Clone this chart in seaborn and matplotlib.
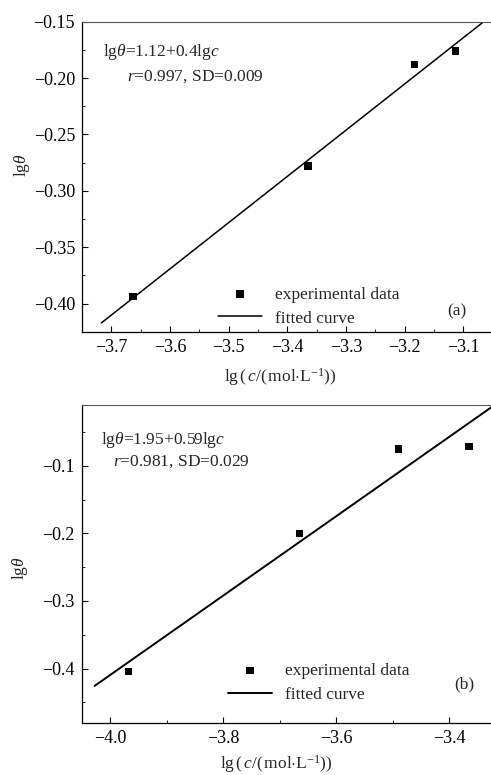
import numpy as np
import pandas as pd
import matplotlib
matplotlib.use("Agg")
import matplotlib.pyplot as plt
from matplotlib.ticker import MultipleLocator, FuncFormatter
import seaborn as sns

# ---- data -------------------------------------------------------------
# (a)
lgc_a = [-3.663, -3.365, -3.183, -3.114]
lgtheta_a = [-0.394, -0.278, -0.188, -0.176]
fit_range_a = [-3.717, -3.06]
eq_a = [r"lg$\theta$=1.12+0.4lg$c$", r"$r$=0.997, SD=0.009"]

# (b)
lgc_b = [-3.967, -3.665, -3.490, -3.365]
lgtheta_b = [-0.404, -0.200, -0.075, -0.071]
fit_range_b = [-4.027, -3.30]
eq_b = [r"lg$\theta$=1.95+0.59lg$c$", r"$r$=0.981, SD=0.029"]

xticks_a = [-3.7, -3.6, -3.5, -3.4, -3.3, -3.2, -3.1]
yticks_a = [-0.40, -0.35, -0.30, -0.25, -0.20, -0.15]
xticks_b = [-4.0, -3.8, -3.6, -3.4]
yticks_b = [-0.4, -0.3, -0.2, -0.1]

legend_labels = ["experimental data", "fitted curve"]
xlabel = r"lg$\,(\,c/(\,\mathrm{mol{\cdot}L}^{-1}))$"
ylabel = r"lg$\theta$"

# ---- style ------------------------------------------------------------
sns.set_theme(style="ticks")
plt.rcParams["font.family"] = ["Liberation Serif", "DejaVu Serif"]
plt.rcParams["mathtext.fontset"] = "custom"
plt.rcParams["mathtext.rm"] = "Liberation Serif"
plt.rcParams["mathtext.it"] = "Liberation Serif:italic"
plt.rcParams["mathtext.bf"] = "Liberation Serif:bold"
plt.rcParams["axes.unicode_minus"] = True

FS = 12.5
TICK_FS = 13

fig = plt.figure(figsize=(4.91, 7.75), dpi=100)
fig.patch.set_facecolor("white")

ax_a = fig.add_axes([0.167, 0.572, 0.833, 0.400])
ax_b = fig.add_axes([0.1664, 0.0675, 0.8336, 0.410])


def minus_fmt(decimals):
    return FuncFormatter(lambda v, p: f"{v:.{decimals}f}".replace("-", "\u2212"))


def panel(ax, x, y, fit_range, eq, lw, xlim, ylim, xticks, yticks,
          xminor, yminor, ydec, tag, tag_pos, eq_pos, leg_anchor,
          xlabel_pos, ylabel_pos):
    df = pd.DataFrame({"x": x, "y": y})
    slope, intercept = np.polyfit(df["x"], df["y"], 1)
    fit = pd.DataFrame({"x": fit_range})
    fit["y"] = intercept + slope * fit["x"]

    sns.scatterplot(data=df, x="x", y="y", ax=ax, marker="s", s=28,
                    color="black", edgecolor="none", linewidth=0,
                    label=legend_labels[0], zorder=3)
    sns.lineplot(data=fit, x="x", y="y", ax=ax, color="black",
                 linewidth=lw, label=legend_labels[1], zorder=2)

    ax.set_xlim(*xlim)
    ax.set_ylim(*ylim)
    ax.set_xticks(xticks)
    ax.set_yticks(yticks)
    ax.xaxis.set_minor_locator(MultipleLocator(xminor))
    ax.yaxis.set_minor_locator(MultipleLocator(yminor))
    ax.xaxis.set_major_formatter(minus_fmt(1))
    ax.yaxis.set_major_formatter(minus_fmt(ydec))
    ax.tick_params(which="major", direction="in", length=4, width=0.8,
                   labelsize=TICK_FS, pad=5, colors="black")
    ax.tick_params(which="minor", direction="in", length=2.5, width=0.7)
    ax.tick_params(axis="x", which="both", top=False)
    ax.tick_params(axis="y", which="both", right=False)

    for side in ("left", "bottom"):
        ax.spines[side].set_color("black")
        ax.spines[side].set_linewidth(0.9)
    ax.spines["top"].set_visible(True)
    ax.spines["top"].set_color("#555555")
    ax.spines["top"].set_linewidth(0.8)
    ax.spines["right"].set_visible(False)

    ax.set_xlabel(xlabel, fontsize=FS)
    ax.set_ylabel(ylabel, fontsize=FS)
    ax.xaxis.set_label_coords(*xlabel_pos)
    ax.yaxis.set_label_coords(*ylabel_pos)

    for (tx, ty), s in zip(eq_pos, eq):
        ax.text(tx, ty, s, transform=ax.transAxes, fontsize=FS,
                ha="left", va="center")
    ax.text(tag_pos[0], tag_pos[1], tag, transform=ax.transAxes,
            fontsize=FS, ha="center", va="center")

    ax.legend(loc="upper left", bbox_to_anchor=leg_anchor, frameon=False,
              fontsize=FS, handlelength=2.5, handletextpad=0.75,
              labelspacing=0.45, borderpad=0, borderaxespad=0,
              markerscale=1.0)


panel(ax_a, lgc_a, lgtheta_a, fit_range_a, eq_a, 1.1,
      (-3.75, -3.053), (-0.425, -0.15), xticks_a, yticks_a, 0.05, 0.025, 2,
      "(a)", (0.916, 0.0645), [(0.051, 0.902), (0.110, 0.822)],
      (0.333, 0.146), (0.486, -0.111), (-0.123, 0.538))

panel(ax_b, lgc_b, lgtheta_b, fit_range_b, eq_b, 1.4,
      (-4.05, -3.326), (-0.48, -0.01), xticks_b, yticks_b, 0.1, 0.05, 1,
      "(b)", (0.936, 0.122), [(0.046, 0.890), (0.077, 0.822)],
      (0.358, 0.189), (0.476, -0.095), (-0.126, 0.487))

fig.savefig("out.png", dpi=100, facecolor="white")
